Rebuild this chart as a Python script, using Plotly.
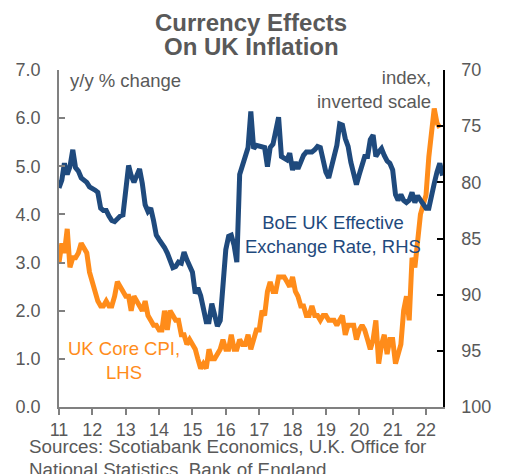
import pandas as pd
import plotly.graph_objects as go

# ---------------- data ----------------
cpi_dates = pd.date_range("2011-01-01", "2022-06-01", freq="MS")
core_cpi = [
    3.0, 3.4, 3.2, 3.7, 2.9, 3.1, 3.1, 3.2, 3.4, 3.3, 3.2, 2.8,   # 2011
    2.6, 2.4, 2.2, 2.1, 2.1, 2.2, 2.1, 2.1, 2.3, 2.6, 2.5, 2.4,   # 2012
    2.3, 2.3, 2.0, 2.3, 2.2, 2.1, 2.0, 2.2, 1.9, 1.8, 1.7, 1.7,   # 2013
    1.6, 1.6, 2.0, 1.6, 2.0, 1.9, 1.8, 1.8, 1.5, 1.5, 1.3, 1.4,   # 2014
    1.3, 1.2, 1.0, 0.8, 0.9, 0.8, 1.2, 1.0, 1.0, 1.1, 1.2, 1.4,   # 2015
    1.2, 1.2, 1.5, 1.2, 1.2, 1.4, 1.3, 1.3, 1.5, 1.2, 1.4, 1.6,   # 2016
    1.6, 2.0, 1.9, 2.4, 2.6, 2.4, 2.4, 2.7, 2.7, 2.7, 2.6, 2.5,   # 2017
    2.7, 2.4, 2.3, 2.1, 2.1, 1.9, 1.9, 2.1, 1.9, 1.9, 1.8, 1.9,   # 2018
    1.9, 1.8, 1.8, 1.8, 1.7, 1.8, 1.9, 1.5, 1.7, 1.7, 1.7, 1.4,   # 2019
    1.6, 1.7, 1.6, 1.4, 1.2, 1.4, 1.8, 0.9, 1.3, 1.5, 1.1, 1.4,   # 2020
    1.4, 0.9, 1.1, 1.3, 2.0, 2.3, 1.8, 3.1, 2.9, 3.4, 4.0, 4.2,   # 2021
    4.4, 5.2, 5.7, 6.2, 5.9, 5.8,                                 # 2022
]

eri_dates = pd.date_range("2011-01-01", "2022-07-01", freq="MS")
boe_eri = [
    80.5, 79.8, 78.3, 79.3, 78.6, 77.1, 78.7, 79.0, 79.6, 79.8, 80.0, 80.4,   # 2011
    80.5, 80.7, 80.9, 82.3, 82.5, 82.5, 83.0, 83.4, 83.5, 83.2, 83.0, 82.9,   # 2012
    80.2, 78.5, 79.4, 80.0, 79.4, 78.8, 80.1, 82.0, 82.6, 82.3, 83.4, 84.7,   # 2013
    85.1, 85.4, 85.8, 86.3, 87.1, 87.6, 87.5, 87.1, 87.2, 86.2, 86.9, 87.5,   # 2014
    88.0, 89.9, 89.4, 90.1, 91.4, 92.4, 92.4, 90.8, 91.8, 92.8, 92.3, 89.1,   # 2015
    86.0, 84.8, 84.7, 85.6, 87.1, 79.3, 78.5, 77.8, 76.9, 73.7, 77.0, 76.7,   # 2016
    76.8, 76.9, 76.9, 78.6, 76.9, 76.6, 75.3, 74.2, 77.7, 77.9, 78.0, 77.4,   # 2017
    78.9, 78.2, 78.8, 78.2, 77.6, 77.3, 77.3, 77.3, 77.1, 76.8, 76.9, 78.3,   # 2018
    79.1, 79.6, 78.7, 77.3, 76.7, 74.8, 74.9, 76.1, 76.8, 78.2, 79.3, 80.2,   # 2019
    79.3, 78.3, 77.7, 77.7, 76.2, 75.8, 77.7, 77.3, 77.0, 77.6, 78.1, 78.3,   # 2020
    78.9, 81.1, 81.6, 81.1, 81.6, 81.8, 81.6, 80.9, 81.8, 81.2, 81.6, 82.0,   # 2021
    82.3, 82.3, 81.1, 80.1, 79.1, 78.3, 79.4,                                 # 2022
]

left_ticks = [0, 1, 2, 3, 4, 5, 6, 7]
right_ticks = [70, 75, 80, 85, 90, 95, 100]
year_ticks = pd.date_range("2011-01-01", "2022-01-01", freq="YS")

# ---------------- styling ----------------
FONT = "Liberation Sans, Arial, sans-serif"
GREY = "#595959"
BLUE = "#1f4a7d"
ORANGE = "#ff8c1a"

fig = go.Figure()
fig.add_trace(go.Scatter(x=cpi_dates, y=core_cpi, mode="lines",
                         line=dict(color=ORANGE, width=5), yaxis="y",
                         name="UK Core CPI, LHS"))
fig.add_trace(go.Scatter(x=eri_dates, y=boe_eri, mode="lines",
                         line=dict(color=BLUE, width=5), yaxis="y2",
                         name="BoE UK Effective Exchange Rate, RHS"))

# page body has an 8px default margin, so the figure is 8px smaller
fig.update_layout(
    width=497, height=466,
    margin=dict(l=51, r=62, t=62, b=67, autoexpand=False),
    paper_bgcolor="white", plot_bgcolor="white",
    showlegend=False,
    font=dict(family=FONT, color=GREY, size=18),
    xaxis=dict(
        type="date",
        range=["2011-01-01", "2022-07-06"],
        tickvals=list(year_ticks), tickformat="%y",
        ticks="outside", ticklen=6, tickcolor="#808080", tickwidth=1.5,
        showline=True, linecolor="#808080", linewidth=1.5,
        showgrid=False, zeroline=False,
        tickfont=dict(size=18, color=GREY, family=FONT),
    ),
    yaxis=dict(
        side="left", range=[0, 7],
        tickvals=left_ticks, tickformat=".1f",
        ticks="inside", ticklen=6, tickcolor="#808080", tickwidth=1.5,
        showline=True, linecolor="#808080", linewidth=1.5,
        showgrid=False, zeroline=False,
        ticklabelstandoff=13,
        tickfont=dict(size=18, color=GREY, family=FONT),
    ),
    yaxis2=dict(
        overlaying="y", side="right", range=[100, 70],
        tickvals=right_ticks,
        ticks="inside", ticklen=6, tickcolor="black", tickwidth=1.5,
        showline=True, linecolor="black", linewidth=1.5,
        showgrid=False, zeroline=False,
        ticklabelstandoff=13,
        tickfont=dict(size=18, color=GREY, family=FONT),
    ),
)

def ann(text, x, y, xanchor, yanchor, color=GREY, size=18.5, bold=False, align="center"):
    fig.add_annotation(text=(f"<b>{text}</b>" if bold else text),
                       xref="paper", yref="paper", x=x, y=y,
                       xanchor=xanchor, yanchor=yanchor, showarrow=False,
                       align=align, font=dict(family=FONT, size=size, color=color))

ann("Currency Effects", 0.5, 1.142, "center", "middle", size=24, bold=True)
ann("On UK Inflation", 0.5, 1.071, "center", "middle", size=24, bold=True)
ann("y/y % change", 0.0234, 0.970, "left", "middle")
ann("index,<br>inverted scale", 0.974, 0.9436, "right", "middle", align="right")
ann("BoE UK Effective<br>Exchange Rate, RHS", 0.7135, 0.512, "center", "middle", color=BLUE)
ann("UK Core CPI,<br>LHS", 0.169, 0.138, "center", "middle", color=ORANGE)
ann("Sources: Scotiabank Economics, U.K. Office for", -0.084, -0.116, "left", "middle",
    align="left", size=18.8)
ann("National Statistics, Bank of England.", -0.084, -0.186, "left", "middle",
    align="left", size=18.8)

fig.write_html("out.html")
